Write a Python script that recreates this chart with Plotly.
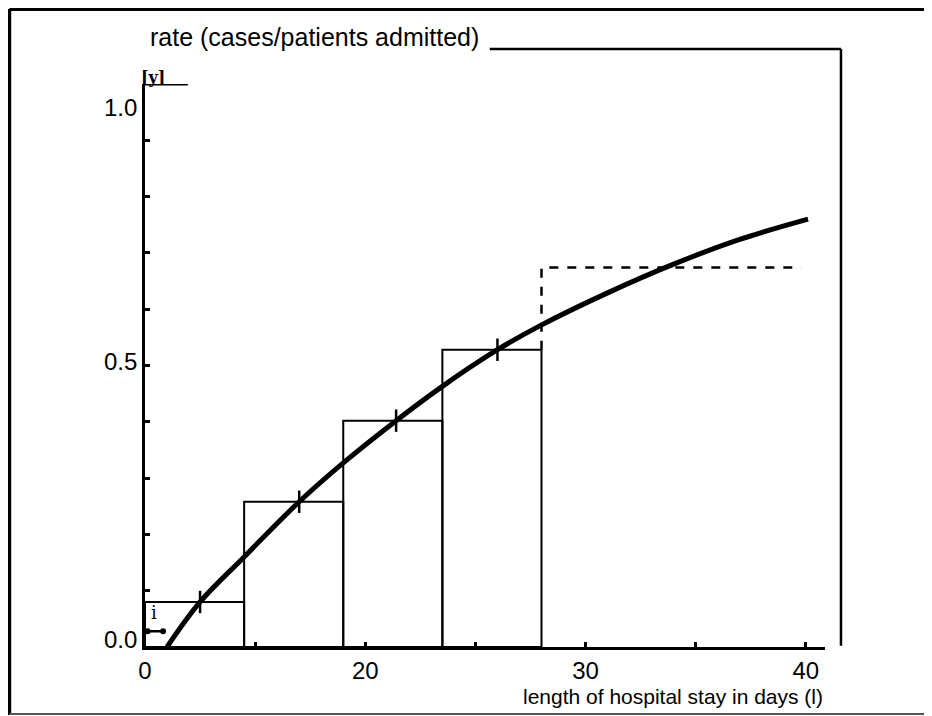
import plotly.graph_objects as go

# ---- data ----
bin_edges = [10, 14.5, 19, 23.5, 28]
bar_values = [0.080, 0.258, 0.402, 0.528]
dashed_value = 0.674
dashed_end = 39.8

curve_x = [11.0, 12.5, 14.5, 17.0, 19.0, 21.4, 23.5, 26.0, 27.9, 31.0, 34.0, 37.0, 40.1]
curve_y = [0.000, 0.080, 0.160, 0.258, 0.327, 0.402, 0.463, 0.528, 0.570, 0.629, 0.680, 0.724, 0.760]

mark_x = [12.5, 17.0, 21.4, 26.0]

x_tickvals = [10, 15, 20, 25, 30, 35, 40]
x_ticktext = ["0", "", "20", "", "30", "", "40"]
y_label_vals = [0.0, 0.5, 1.0]
y_label_text = ["0.0", "0.5", "1.0"]
y_label_shift = [8, 4, -23]

title_text = "rate (cases/patients admitted)"
x_title = "length of hospital stay in days (l)"

FONT = "Liberation Sans, Arial, sans-serif"

fig = go.Figure()

# bars (outlined rectangles)
centers = [(a + b) / 2 for a, b in zip(bin_edges[:-1], bin_edges[1:])]
widths = [b - a for a, b in zip(bin_edges[:-1], bin_edges[1:])]
fig.add_trace(go.Bar(x=centers, y=bar_values, width=widths,
                     marker=dict(color="rgba(0,0,0,0)", line=dict(color="black", width=2)),
                     showlegend=False, hoverinfo="skip"))

# dashed continuation
fig.add_trace(go.Scatter(x=[bin_edges[-1], bin_edges[-1], dashed_end],
                         y=[bar_values[-1], dashed_value, dashed_value],
                         mode="lines", line=dict(color="black", width=2.5, dash="dash"),
                         showlegend=False, hoverinfo="skip"))

# fitted curve
fig.add_trace(go.Scatter(x=curve_x, y=curve_y, mode="lines",
                         line=dict(color="black", width=5, shape="spline", smoothing=1.0),
                         showlegend=False, hoverinfo="skip"))

# cross marks where curve meets bar tops
fig.add_trace(go.Scatter(x=mark_x, y=bar_values, mode="markers",
                         marker=dict(symbol="line-ns-open", size=16, color="black",
                                     line=dict(color="black", width=2.5)),
                         showlegend=False, hoverinfo="skip"))

# "i" arrow
fig.add_annotation(x=10.82, y=0.028, ax=10.05, ay=0.028, axref="x", ayref="y",
                   xref="x", yref="y", text="", showarrow=True,
                   arrowhead=6, startarrowhead=6, arrowside="end+start",
                   arrowsize=0.6, startarrowsize=0.6, arrowwidth=2.5, arrowcolor="black")
fig.add_annotation(x=10.4, y=0.062, xref="x", yref="y", text="i", showarrow=False,
                   font=dict(family="DejaVu Serif, serif", size=18, color="black"))

# y tick labels
for v, t, s in zip(y_label_vals, y_label_text, y_label_shift):
    fig.add_annotation(x=0, y=v, xref="paper", yref="y", text=t, showarrow=False,
                       xanchor="right", yanchor="middle", xshift=-6, yshift=s,
                       font=dict(family=FONT, size=24, color="black"))

# [y]
fig.add_annotation(x=0.012, y=1.0124, xref="paper", yref="paper", text="<b>[y]</b>",
                   showarrow=False, xanchor="center", yanchor="middle",
                   font=dict(family="DejaVu Serif, serif", size=16, color="black"))

# title and x title
fig.add_annotation(x=0.004, y=1.083, xref="paper", yref="paper", text=title_text,
                   showarrow=False, xanchor="left", yanchor="middle",
                   font=dict(family=FONT, size=25, color="black"))
fig.add_annotation(x=1.0, y=-0.0888, xref="paper", yref="paper", text=x_title,
                   showarrow=False, xanchor="right", yanchor="middle",
                   font=dict(family=FONT, size=21, color="black"))

# decorative lines
shapes = [
    # short horizontal at 1.0
    dict(type="line", xref="x domain", yref="y", x0=-0.003, x1=0.063, y0=1.0, y1=1.0,
         line=dict(color="black", width=3)),
    # title line and right frame
    dict(type="line", xref="paper", yref="paper", x0=0.507, x1=1.0235, y0=1.0622, y1=1.0622,
         line=dict(color="black", width=2.5)),
    dict(type="line", xref="paper", yref="paper", x0=1.0235, x1=1.0235, y0=1.0622, y1=0.002,
         line=dict(color="black", width=2.5)),
    # outer border
    dict(type="line", xref="paper", yref="paper", x0=-0.1993, x1=1.2, y0=1.1332, y1=1.1332,
         line=dict(color="black", width=4)),
    dict(type="line", xref="paper", yref="paper", x0=-0.1993, x1=-0.1993, y0=1.1332, y1=-0.121,
         line=dict(color="black", width=3.5)),
    dict(type="line", xref="paper", yref="paper", x0=-0.1993, x1=1.2, y0=-0.119, y1=-0.119,
         line=dict(color="#555555", width=2)),
]

# page has an 8px body margin: figure drawn at offset (8, 8)
fig.update_layout(
    width=924, height=708,
    margin=dict(l=137, r=107, t=76, b=69),
    paper_bgcolor="white", plot_bgcolor="white",
    barmode="overlay",
    shapes=shapes,
    showlegend=False,
    xaxis=dict(range=[10, 40.87], tickvals=x_tickvals, ticktext=x_ticktext,
               ticks="inside", ticklen=5, tickwidth=3, tickcolor="black",
               showline=True, linecolor="black", linewidth=3,
               showgrid=False, zeroline=False,
               tickfont=dict(family=FONT, size=24, color="black")),
    yaxis=dict(range=[0, 1.0], dtick=0.1, tick0=0,
               ticks="inside", ticklen=5, tickwidth=3, tickcolor="black",
               showline=True, linecolor="black", linewidth=3,
               showgrid=False, zeroline=False, showticklabels=False),
)

fig.write_html("out.html")
